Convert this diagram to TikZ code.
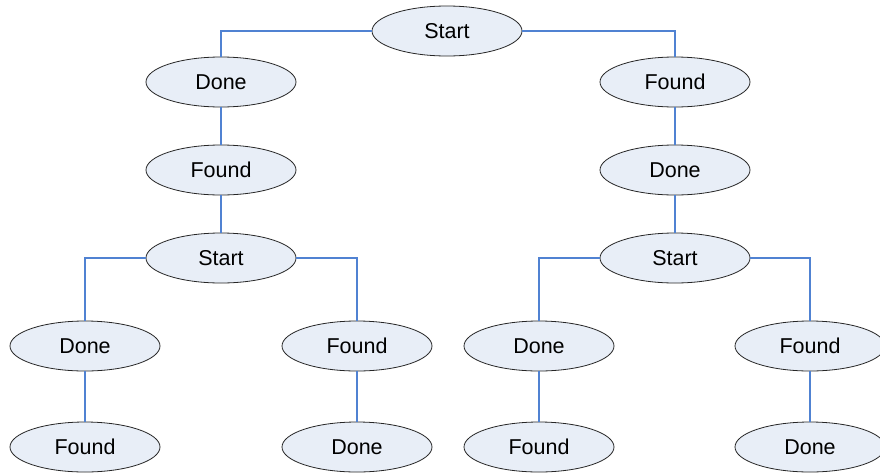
\documentclass[tikz,border=0pt]{standalone}
\usepackage{fontspec}
\setmainfont{Liberation Sans}
\usetikzlibrary{shapes.geometric}
\definecolor{nodefill}{RGB}{232,238,247}
\definecolor{linkblue}{RGB}{80,130,210}
\begin{document}
\begin{tikzpicture}[x=1pt,y=-1pt,
  st/.style={ellipse, draw=black!85, line width=0.8pt, fill=nodefill,
    minimum width=150pt, minimum height=50pt, inner sep=0pt,
    font=\fontsize{21.5}{24}\selectfont},
  ln/.style={draw=linkblue, line width=1.05pt}]
\useasboundingbox (0,0) rectangle (880,474);
% nodes
\node[st] (s0) at (447,31) {Start};
\node[st] (a1) at (221,82) {Done};
\node[st] (a2) at (221,170) {Found};
\node[st] (a3) at (221,258) {Start};
\node[st] (a4) at (85,346) {Done};
\node[st] (a5) at (85,447) {Found};
\node[st] (a6) at (357,346) {Found};
\node[st] (a7) at (357,447) {Done};
\node[st] (b1) at (675,82) {Found};
\node[st] (b2) at (675,170) {Done};
\node[st] (b3) at (675,258) {Start};
\node[st] (b4) at (539,346) {Done};
\node[st] (b5) at (539,447) {Found};
\node[st] (b6) at (810,346) {Found};
\node[st] (b7) at (810,447) {Done};
% connectors
\draw[ln] (s0.west) -| (a1.north);
\draw[ln] (s0.east) -| (b1.north);
\draw[ln] (a1) -- (a2);
\draw[ln] (a2) -- (a3);
\draw[ln] (a3.west) -| (a4.north);
\draw[ln] (a3.east) -| (a6.north);
\draw[ln] (a4) -- (a5);
\draw[ln] (a6) -- (a7);
\draw[ln] (b1) -- (b2);
\draw[ln] (b2) -- (b3);
\draw[ln] (b3.west) -| (b4.north);
\draw[ln] (b3.east) -| (b6.north);
\draw[ln] (b4) -- (b5);
\draw[ln] (b6) -- (b7);
\end{tikzpicture}
\end{document}
